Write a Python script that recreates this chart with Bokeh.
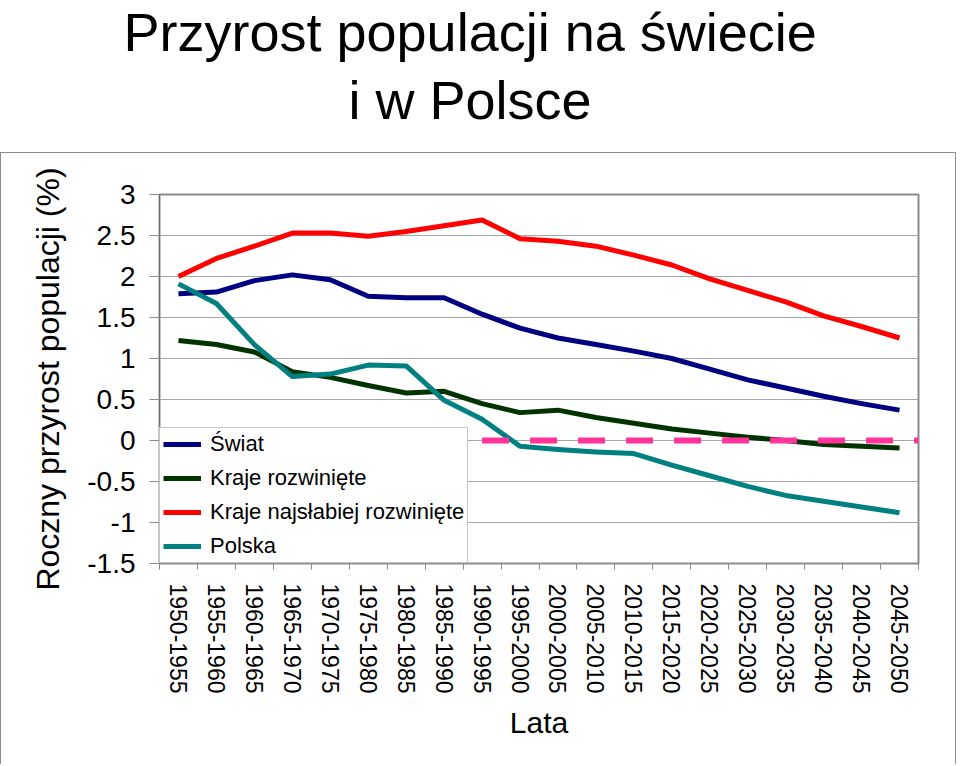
from bokeh.plotting import figure
from bokeh.models import (Range1d, FixedTicker, NumeralTickFormatter, Legend,
                          LegendItem, Title)
from bokeh.layouts import column
from bokeh.embed import file_html
from bokeh.resources import INLINE

# ---------------- data ----------------
categories = ["1950-1955", "1955-1960", "1960-1965", "1965-1970", "1970-1975",
              "1975-1980", "1980-1985", "1985-1990", "1990-1995", "1995-2000",
              "2000-2005", "2005-2010", "2010-2015", "2015-2020", "2020-2025",
              "2025-2030", "2030-2035", "2035-2040", "2040-2045", "2045-2050"]

swiat = [1.79, 1.81, 1.95, 2.02, 1.96, 1.76, 1.74, 1.74, 1.54, 1.37,
         1.25, 1.17, 1.09, 1.00, 0.87, 0.74, 0.64, 0.54, 0.45, 0.37]
kraje_rozwiniete = [1.22, 1.17, 1.08, 0.84, 0.77, 0.67, 0.58, 0.60, 0.45, 0.34,
                    0.37, 0.28, 0.21, 0.14, 0.09, 0.04, 0.00, -0.05, -0.07, -0.09]
kraje_najslabiej = [2.00, 2.22, 2.37, 2.53, 2.53, 2.49, 2.55, 2.62, 2.69, 2.46,
                    2.43, 2.37, 2.26, 2.14, 1.97, 1.83, 1.69, 1.52, 1.39, 1.25]
polska = [1.91, 1.67, 1.17, 0.78, 0.81, 0.92, 0.91, 0.49, 0.26, -0.07,
          -0.11, -0.14, -0.16, -0.30, -0.43, -0.56, -0.67, -0.74, -0.81, -0.88]

series_names = ["Świat", "Kraje rozwinięte", "Kraje najsłabiej rozwinięte", "Polska"]
series_values = [swiat, kraje_rozwiniete, kraje_najslabiej, polska]
series_colors = ["#000080", "#003300", "#ff0000", "#008080"]

zero_line_from = "1990-1995"
zero_line_value = 0.0

y_ticks = [-1.5, -1.0, -0.5, 0.0, 0.5, 1.0, 1.5, 2.0, 2.5, 3.0]
title_lines = ["Przyrost populacji na świecie", "i w Polsce"]
y_title = "Roczny przyrost populacji (%)"
x_title = "Lata"

FONT = "Liberation Sans"
GRAY = "#8c8c8c"

FIG_W = 956
FRAME_L, FRAME_R = 158, 917

# ---------------- title block ----------------
tf = figure(width=FIG_W, height=152, x_range=Range1d(0, 1), y_range=Range1d(0, 1),
            toolbar_location=None, output_backend="svg",
            min_border_left=FRAME_L, min_border_right=FIG_W - FRAME_R,
            min_border_top=0, min_border_bottom=0,
            x_axis_location=None, y_axis_location=None)
tf.grid.visible = False
tf.outline_line_color = None
tf.background_fill_color = None
# lines are added closest-to-plot first
tf.add_layout(Title(text=title_lines[1], align="left", offset=190, standoff=14,
                    text_font=FONT, text_font_size="54px", text_font_style="normal",
                    text_color="black"), "above")
tf.add_layout(Title(text=title_lines[0], align="left", offset=-35, standoff=-2,
                    text_font=FONT, text_font_size="54px", text_font_style="normal",
                    text_color="black"), "above")

# ---------------- main plot ----------------
n = len(categories)
xs = [i + 0.5 for i in range(n)]

p = figure(width=FIG_W, height=612, x_range=Range1d(0, n),
           y_range=Range1d(y_ticks[0], y_ticks[-1]),
           toolbar_location=None, output_backend="svg",
           min_border_left=FRAME_L, min_border_right=FIG_W - FRAME_R,
           min_border_top=41, min_border_bottom=202)
p.styles = {"border-top": "1px solid " + GRAY, "border-left": "1px solid " + GRAY,
            "border-right": "1px solid " + GRAY}
p.outline_line_color = GRAY
p.outline_line_width = 2
p.xgrid.visible = False
p.ygrid.grid_line_color = "#a6a6a6"
p.ygrid.grid_line_width = 1

# y axis
p.yaxis.ticker = FixedTicker(ticks=y_ticks, minor_ticks=[])
p.yaxis.formatter = NumeralTickFormatter(format="0.[0]")
p.yaxis.major_tick_out = 10
p.yaxis.major_tick_in = 0
p.yaxis.minor_tick_out = 0
p.yaxis.minor_tick_in = 0
p.yaxis.axis_line_color = "#707070"
p.yaxis.major_tick_line_color = GRAY
p.yaxis.major_label_text_font = FONT
p.yaxis.major_label_text_font_size = "28px"
p.yaxis.major_label_text_color = "black"
p.yaxis.major_label_standoff = 14
p.yaxis.axis_label = y_title
p.yaxis.axis_label_text_font = FONT
p.yaxis.axis_label_text_font_size = "32px"
p.yaxis.axis_label_text_font_style = "normal"
p.yaxis.axis_label_text_color = "black"
p.yaxis.axis_label_standoff = 18

# x axis
p.xaxis.ticker = FixedTicker(ticks=xs, minor_ticks=list(range(n + 1)))
p.xaxis.major_label_overrides = {x: c for x, c in zip(xs, categories)}
p.xaxis.major_tick_out = 0
p.xaxis.major_tick_in = 0
p.xaxis.minor_tick_out = 6
p.xaxis.minor_tick_in = 0
p.xaxis.minor_tick_line_color = GRAY
p.xaxis.axis_line_color = GRAY
p.xaxis.major_label_orientation = "vertical"
p.xaxis.major_label_text_font = FONT
p.xaxis.major_label_text_font_size = "23px"
p.xaxis.major_label_text_color = "black"
p.xaxis.major_label_standoff = 14
p.xaxis.axis_label = x_title
p.xaxis.axis_label_text_font = FONT
p.xaxis.axis_label_text_font_size = "30px"
p.xaxis.axis_label_text_font_style = "normal"
p.xaxis.axis_label_text_color = "black"
p.xaxis.axis_label_standoff = 10

items = []
for name, vals, col in zip(series_names, series_values, series_colors):
    r = p.line(xs, vals, line_color=col, line_width=5, line_join="round")
    items.append(LegendItem(label=name, renderers=[r]))

# zero reference line (dashed pink)
z0 = categories.index(zero_line_from) + 0.5
p.line([z0, n], [zero_line_value, zero_line_value], line_color="#ff3399",
       line_width=6, line_dash="27 21")

legend = Legend(items=items, location="bottom_left", margin=0, padding=3, spacing=8,
                glyph_width=38, glyph_height=20, label_standoff=9,
                label_text_font=FONT, label_text_font_size="22px",
                label_text_color="black", border_line_color=GRAY,
                border_line_width=1, background_fill_color="white",
                background_fill_alpha=1)
p.add_layout(legend)

layout = column(tf, p, spacing=0)
open("out.html", "w").write(file_html(layout, INLINE))
